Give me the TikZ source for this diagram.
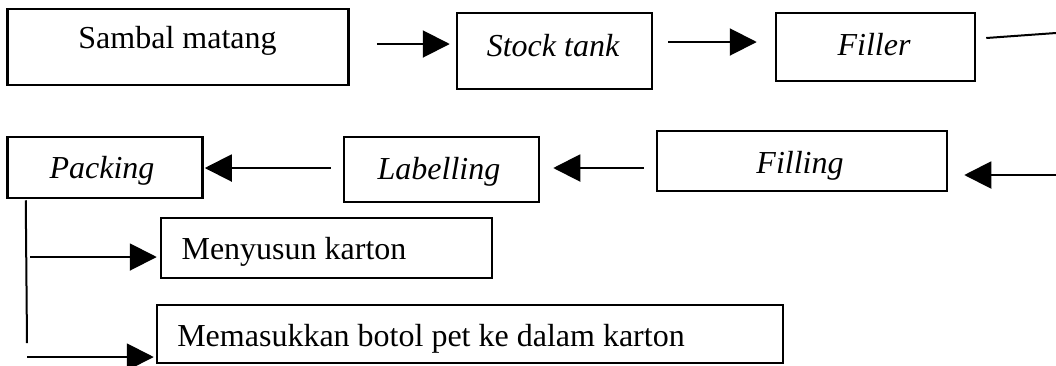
\documentclass[tikz,border=0pt]{standalone}
\usepackage{fontspec}
\setmainfont{Liberation Serif}
\usetikzlibrary{arrows.meta}
\begin{document}
\begin{tikzpicture}[x=1pt,y=-1pt,
  box/.style={draw,rectangle,line width=2.5pt,inner sep=0pt},
  lbl/.style={anchor=base,inner sep=0pt,font=\fontsize{32}{38}\selectfont},
  arr/.style={line width=2pt,-{Triangle[length=27pt,width=27pt]}},
  ln/.style={line width=2pt}]
\useasboundingbox (0,0) rectangle (1056,365);
% boxes
\node[box,minimum width=341pt,minimum height=76pt] (sambal) at (178,47) {};
\node[box,minimum width=195pt,minimum height=76pt] (stock) at (554.5,51) {};
\node[box,minimum width=199pt,minimum height=68pt] (filler) at (875.5,47) {};
\node[box,minimum width=195pt,minimum height=61pt] (packing) at (105,167.5) {};
\node[box,minimum width=195pt,minimum height=65pt] (labelling) at (441.5,169.5) {};
\node[box,minimum width=290pt,minimum height=60pt] (filling) at (802,161) {};
\node[box,minimum width=331pt,minimum height=60pt] (menyusun) at (326.5,248) {};
\node[box,minimum width=626pt,minimum height=58pt] (memasukkan) at (470,334) {};
% labels
\node[lbl] (t1) at (177.5,48) {Sambal matang};
\node[lbl] (t2) at (553,56) {\itshape Stock tank};
\node[lbl] (t3) at (874,55) {\itshape Filler};
\node[lbl] (t4) at (102,178.5) {\itshape Packing};
\node[lbl] (t5) at (439,179) {\itshape Labelling};
\node[lbl] (t6) at (800,173) {\itshape Filling};
\node[lbl] (t7) at (294,259) {Menyusun karton};
\node[lbl] (t8) at (431,346) {Memasukkan botol pet ke dalam karton};
% free ends
\coordinate (r1) at (1056,33);
\coordinate (r2) at (1056,175);
\coordinate (vb) at (27,343);
\coordinate (b1) at (30,257);
\coordinate (b2) at (27,357);
% connectors
\draw[arr] ([xshift=27pt,yshift=3pt]sambal.east) -- ([xshift=-6pt,yshift=7pt]stock.west);
\draw[arr] ([xshift=15pt,yshift=9pt]stock.east) -- ([xshift=-18pt,yshift=5pt]filler.west);
\draw[ln] ([xshift=10pt,yshift=9pt]filler.east) -- (r1);
\draw[arr] (r2) -- ([xshift=16pt,yshift=-14pt]filling.east);
\draw[arr] ([xshift=-12pt,yshift=-7pt]filling.west) -- ([xshift=13pt,yshift=1.5pt]labelling.east);
\draw[arr] ([xshift=-12pt,yshift=1.5pt]labelling.west) -- ([xshift=1pt,yshift=-0.5pt]packing.east);
\draw[ln] ([xshift=19.5pt,yshift=-1pt]packing.south west) -- (vb);
\draw[arr] (b1) -- ([xshift=-3pt,yshift=-9pt]menyusun.west);
\draw[arr] (b2) -- ([xshift=-2pt,yshift=-23pt]memasukkan.west);
\end{tikzpicture}
\end{document}
